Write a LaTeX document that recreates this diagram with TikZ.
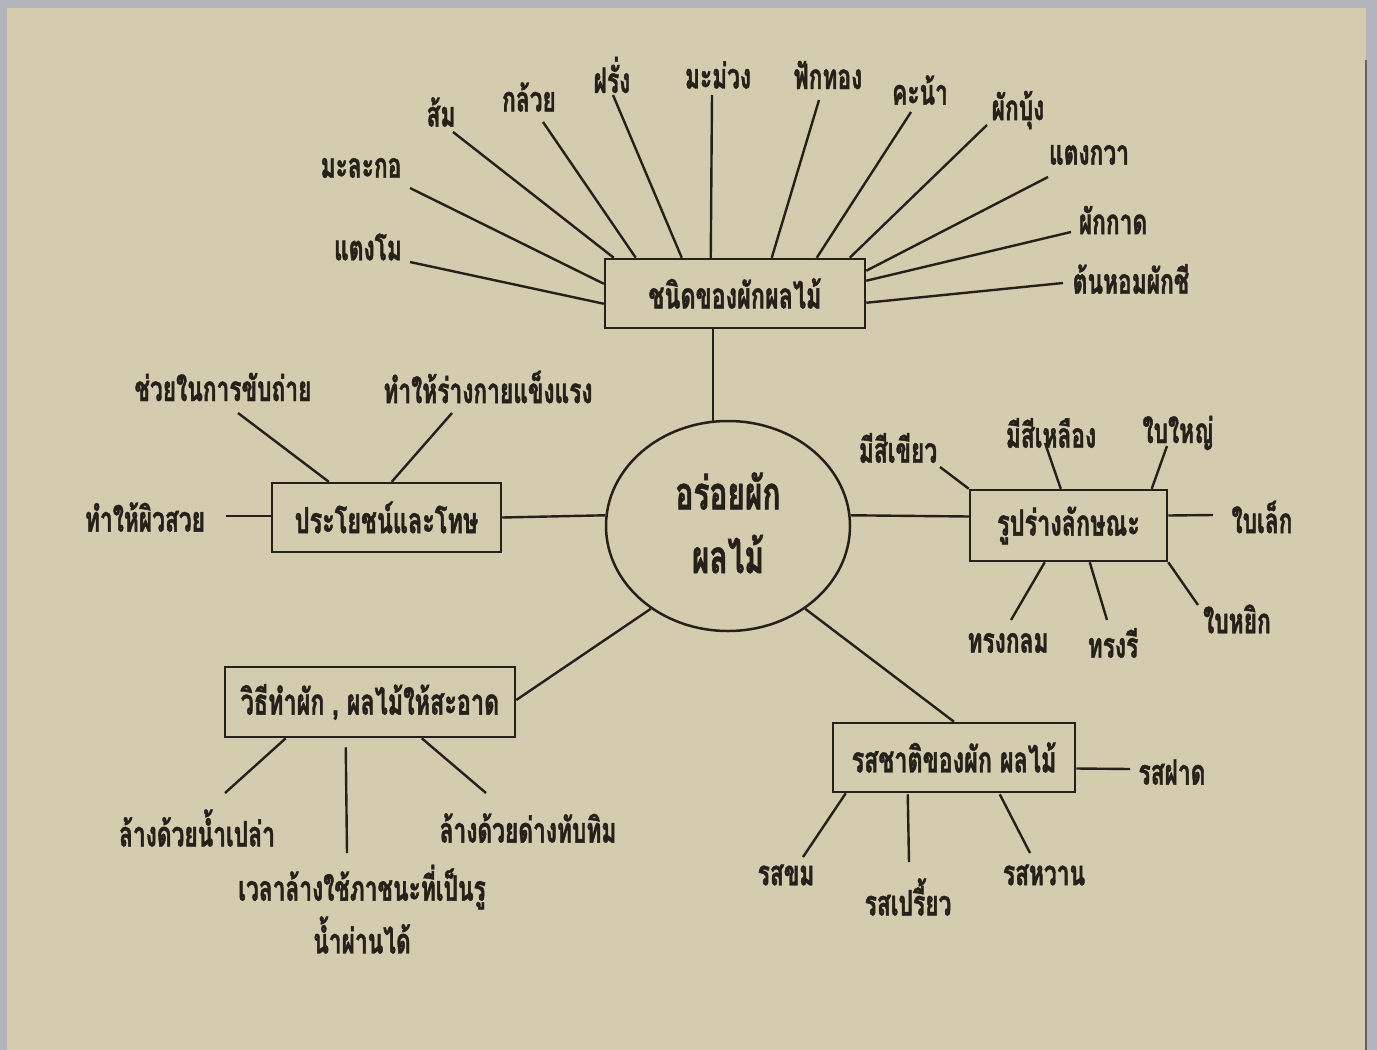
\documentclass[tikz,border=0pt]{standalone}
\usepackage{fontspec}
\newfontfamily\thai[Script=Thai,FakeStretch=0.65,FakeBold=1.2]{Loma}
\usetikzlibrary{shapes.geometric,calc}
\definecolor{bg}{RGB}{211,204,174}
\definecolor{ink}{RGB}{36,32,26}
\definecolor{edge}{RGB}{180,180,188}
\begin{document}
\begin{tikzpicture}[x=0.5pt,y=-0.5pt,
  lbl/.style={font=\thai\bfseries\fontsize{17.5}{20}\selectfont, text=ink, inner sep=0pt},
  boxlbl/.style={font=\thai\bfseries\fontsize{18}{20}\selectfont, text=ink},
  box/.style={draw=ink, line width=1.25pt, inner sep=0pt, boxlbl},
  ln/.style={draw=ink, line width=1.2pt}]
\useasboundingbox (0,0) rectangle (1377,1050);
\fill[bg] (0,0) rectangle (1377,1050);
\fill[edge] (0,0) rectangle (1377,8);
\fill[edge] (0,0) rectangle (7,1050);
\fill[edge] (1366,0) rectangle (1377,1050);
\draw[ink!70, line width=1pt] (1366,60) -- (1366,1050);

% centre
\node[draw=ink, line width=1.25pt, ellipse, inner sep=0pt, minimum width=122pt, minimum height=105pt] (ell) at (728,526) {};
\node[lbl, font=\thai\bfseries\fontsize{23}{26}\selectfont] (c1) at (728,491) {อร่อยผัก};
\node[lbl, font=\thai\bfseries\fontsize{23}{26}\selectfont] (c2) at (728,554) {ผลไม้};

% boxes
\node[box, minimum width=130pt, minimum height=34.5pt] (b1) at (735,293.5) {ชนิดของผักผลไม้};
\node[box, minimum width=114.5pt, minimum height=34.5pt] (b2) at (386.5,517.5) {ประโยชน์และโทษ};
\node[box, minimum width=98.5pt, minimum height=35.5pt] (b3) at (1068.5,525.5) {รูปร่างลักษณะ};
\node[box, minimum width=145pt, minimum height=35pt] (b4) at (370,702) {วิธีทำผัก , ผลไม้ให้สะอาด};
\node[box, minimum width=121pt, minimum height=34.5pt] (b5) at (954,757.5) {รสชาติของผัก ผลไม้};

% box to centre
\draw[ln] ($(b1.south)+(-22,0)$) -- ($(ell.north)+(-15,1)$);
\draw[ln] (b2.east) -- (ell.175);
\draw[ln] (ell.5) -- ($(b3.west)+(0,-9)$);
\draw[ln] ($(b4.east)+(0,-2)$) -- (ell.227);
\draw[ln] (ell.313) -- (b5.north);

% labels: types
\node[lbl] (t1) at (368,247) {แตงโม};
\node[lbl] (t2) at (361,168) {มะละกอ};
\node[lbl] (t3) at (441,112) {ส้ม};
\node[lbl] (t4) at (529,97) {กล้วย};
\node[lbl] (t5) at (612,75) {ฝรั่ง};
\node[lbl] (t6) at (718,75) {มะม่วง};
\node[lbl] (t7) at (828,75) {ฟักทอง};
\node[lbl] (t8) at (920,90) {คะน้า};
\node[lbl] (t9) at (1018,110) {ผักบุ้ง};
\node[lbl] (t10) at (1089,155) {แตงกวา};
\node[lbl] (t11) at (1113,220) {ผักกาด};
\node[lbl] (t12) at (1131,279) {ต้นหอมผักชี};

\coordinate (e1) at (410,262);
\coordinate (e2) at (410,188);
\coordinate (e3) at (453,132);
\coordinate (e4) at (543,122);
\coordinate (e5) at (613,95);
\coordinate (e6) at (712,95);
\coordinate (e7) at (819,100);
\coordinate (e8) at (911,112);
\coordinate (e9) at (987,125);
\coordinate (e10) at (1048,177);
\coordinate (e11) at (1071,232);
\coordinate (e12) at (1063,283);

\draw[ln] (e1) -- ($(b1.north west)+(0,46)$);
\draw[ln] (e2) -- ($(b1.north west)+(0,26)$);
\draw[ln] (e3) -- ($(b1.north west)+(10,0)$);
\draw[ln] (e4) -- ($(b1.north west)+(32,0)$);
\draw[ln] (e5) -- ($(b1.north west)+(78,0)$);
\draw[ln] (e6) -- ($(b1.north west)+(107,0)$);
\draw[ln] (e7) -- ($(b1.north west)+(168,0)$);
\draw[ln] (e8) -- ($(b1.north west)+(213,0)$);
\draw[ln] (e9) -- ($(b1.north west)+(246,0)$);
\draw[ln] (e10) -- ($(b1.north east)+(0,13)$);
\draw[ln] (e11) -- ($(b1.north east)+(0,23)$);
\draw[ln] (e12) -- ($(b1.north east)+(0,45)$);

% benefits
\node[lbl] (p1) at (223,387) {ช่วยในการขับถ่าย};
\node[lbl] (p2) at (488,387) {ทำให้ร่างกายแข็งแรง};
\node[lbl] (p3) at (145,517) {ทำให้ผิวสวย};
\coordinate (f1) at (238,413);
\coordinate (f2) at (452,413);
\coordinate (f3) at (226,516);
\draw[ln] (f1) -- ($(b2.north west)+(58,0)$);
\draw[ln] (f2) -- ($(b2.north west)+(121,0)$);
\draw[ln] (f3) -- ($(b2.west)+(0,-1.5)$);

% shape
\node[lbl] (r1) at (898,448) {มีสีเขียว};
\node[lbl] (r2) at (1051,433) {มีสีเหลือง};
\node[lbl] (r3) at (1178,433) {ใบใหญ่};
\node[lbl] (r4) at (1262,517) {ใบเล็ก};
\node[lbl] (r5) at (1237,619) {ใบหยิก};
\node[lbl] (r6) at (1008,643) {ทรงกลม};
\node[lbl] (r7) at (1113,643) {ทรงรี};
\coordinate (g1) at (940,467);
\coordinate (g2) at (1045,443);
\coordinate (g3) at (1167,446);
\coordinate (g4) at (1213,515);
\coordinate (g5) at (1198,605);
\coordinate (g6) at (1011,620);
\coordinate (g7) at (1107,620);
\draw[ln] (g1) -- (b3.north west);
\draw[ln] (g2) -- ($(b3.north west)+(92,0)$);
\draw[ln] (g3) -- ($(b3.north west)+(183,0)$);
\draw[ln] (g4) -- ($(b3.east)+(0,-10)$);
\draw[ln] (g5) -- (b3.south east);
\draw[ln] (g6) -- ($(b3.south west)+(76,0)$);
\draw[ln] (g7) -- ($(b3.south west)+(121,0)$);

% cleaning
\node[lbl] (w1) at (197,828) {ล้างด้วยน้ำเปล่า};
\node[lbl] (w2) at (362,887) {เวลาล้างใช้ภาชนะที่เป็นรู};
\node[lbl] (w3) at (362,935) {น้ำผ่านได้};
\node[lbl] (w4) at (528,828) {ล้างด้วยด่างทับทิม};
\coordinate (h1) at (225,793);
\coordinate (h2) at (347,853);
\coordinate (h3) at (486,793);
\draw[ln] (h1) -- ($(b4.south west)+(62,0)$);
\draw[ln] (h2) -- ($(b4.south west)+(122,9)$);
\draw[ln] (h3) -- ($(b4.south west)+(198,0)$);

% taste
\node[lbl] (s1) at (1172,772) {รสฝาด};
\node[lbl] (s2) at (786,875) {รสขม};
\node[lbl] (s3) at (908,897) {รสเปรี้ยว};
\node[lbl] (s4) at (1044,875) {รสหวาน};
\coordinate (k1) at (1130,769);
\coordinate (k2) at (803,857);
\coordinate (k3) at (909,862);
\coordinate (k4) at (1030,853);
\draw[ln] (k1) -- ($(b5.east)+(0,11)$);
\draw[ln] (k2) -- ($(b5.south west)+(14,0)$);
\draw[ln] (k3) -- ($(b5.south west)+(76,1)$);
\draw[ln] (k4) -- ($(b5.south west)+(168,1)$);
\end{tikzpicture}
\end{document}
